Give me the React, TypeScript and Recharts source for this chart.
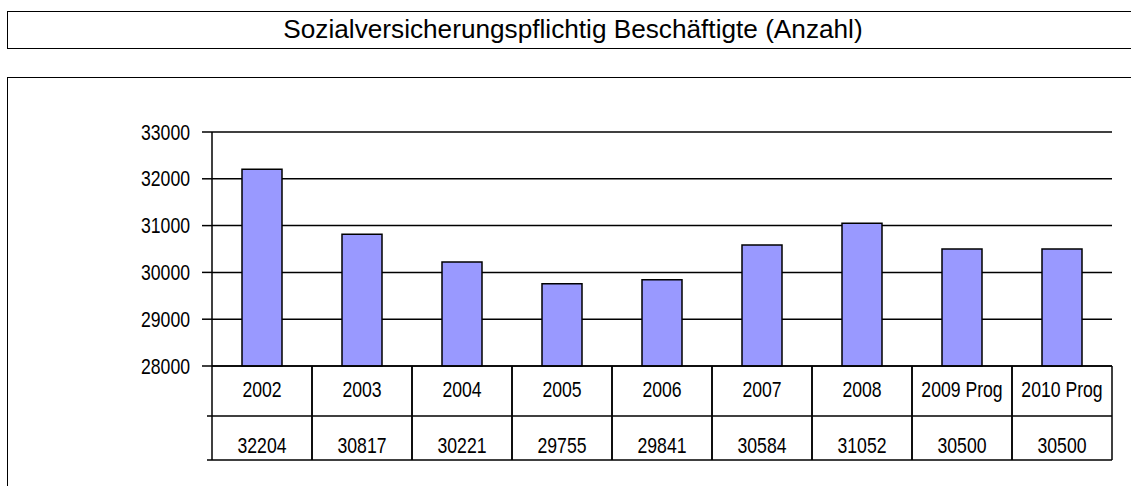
import { BarChart, Bar, XAxis, YAxis, CartesianGrid } from "recharts";

const years = ["2002", "2003", "2004", "2005", "2006", "2007", "2008", "2009 Prog", "2010 Prog"];
const employees = [32204, 30817, 30221, 29755, 29841, 30584, 31052, 30500, 30500];
const yTicks = [28000, 29000, 30000, 31000, 32000, 33000];

const data = years.map((year, i) => ({ year, value: employees[i] }));

const FONT = "'Liberation Sans', Arial, sans-serif";
const LABEL_SIZE = 21.5;
const SQUEEZE = 0.82; // the original labels use a narrow face

function NarrowText({ x, y, anchor, children }: any) {
  return (
    <text
      transform={`translate(${x},${y}) scale(${SQUEEZE},1)`}
      textAnchor={anchor}
      fontSize={LABEL_SIZE}
      fontFamily={FONT}
      fill="#000"
    >
      {children}
    </text>
  );
}

function YTick(props: any) {
  const { x, y, payload } = props;
  return (
    <NarrowText x={x} y={y + 7.5} anchor="end">
      {payload.value}
    </NarrowText>
  );
}

// draws one column of the data table below the bars
function TableTick(props: any) {
  const { x, y, payload, index } = props;
  const half = 50;
  const rowH = 50;
  const tableH = 94;
  const i = payload?.index ?? index;
  const left = i === 0 ? x - half - 5 : x - half;
  return (
    <g>
      <line x1={x - half} y1={y} x2={x - half} y2={y + tableH} stroke="#000" strokeWidth={1.5} />
      <line x1={x + half} y1={y} x2={x + half} y2={y + tableH} stroke="#000" strokeWidth={1.5} />
      <line x1={left} y1={y + rowH} x2={x + half} y2={y + rowH} stroke="#000" strokeWidth={1.5} />
      <line x1={left} y1={y + tableH} x2={x + half} y2={y + tableH} stroke="#000" strokeWidth={1.5} />
      <NarrowText x={x} y={y + 30.5} anchor="middle">
        {payload.value}
      </NarrowText>
      <NarrowText x={x} y={y + 86.5} anchor="middle">
        {employees[i]}
      </NarrowText>
    </g>
  );
}

export default function App() {
  return (
    <div
      style={{
        position: "absolute",
        left: 0,
        top: 0,
        width: 1131,
        height: 486,
        overflow: "hidden",
        background: "#fff",
      }}
    >
      <div
        style={{
          position: "absolute",
          left: 7,
          top: 11,
          width: 1124,
          height: 38,
          border: "1.5px solid #000",
          borderRight: "none",
          boxSizing: "border-box",
        }}
      />
      <div
        style={{
          position: "absolute",
          left: 0,
          top: 10,
          width: 1146,
          height: 38,
          lineHeight: "38px",
          textAlign: "center",
          fontFamily: FONT,
          fontSize: 26.2,
          color: "#000",
        }}
      >
        Sozialversicherungspflichtig Beschäftigte (Anzahl)
      </div>
      <div
        style={{
          position: "absolute",
          left: 7,
          top: 77,
          width: 1124,
          height: 409,
          borderTop: "1.5px solid #000",
          borderLeft: "1.5px solid #000",
          boxSizing: "border-box",
        }}
      />
      <div style={{ position: "absolute", left: 0, top: 0 }}>
        <BarChart
          width={1131}
          height={486}
          data={data}
          margin={{ top: 132, right: 19, bottom: 26, left: 152 }}
          barSize={40}
        >
          <CartesianGrid horizontal vertical={false} stroke="#000" strokeWidth={1.5} />
          <YAxis
            width={60}
            domain={[28000, 33000]}
            ticks={yTicks}
            interval={0}
            tickSize={10}
            tickMargin={12}
            axisLine={{ stroke: "#000", strokeWidth: 1.5 }}
            tickLine={{ stroke: "#000", strokeWidth: 1.5 }}
            tick={<YTick />}
          />
          <XAxis
            dataKey="year"
            height={94}
            interval={0}
            tickSize={0}
            tickMargin={0}
            axisLine={{ stroke: "#000", strokeWidth: 1.5 }}
            tickLine={false}
            tick={<TableTick />}
          />
          <Bar dataKey="value" fill="#9999FF" stroke="#000" strokeWidth={1.5} isAnimationActive={false} />
        </BarChart>
      </div>
    </div>
  );
}
